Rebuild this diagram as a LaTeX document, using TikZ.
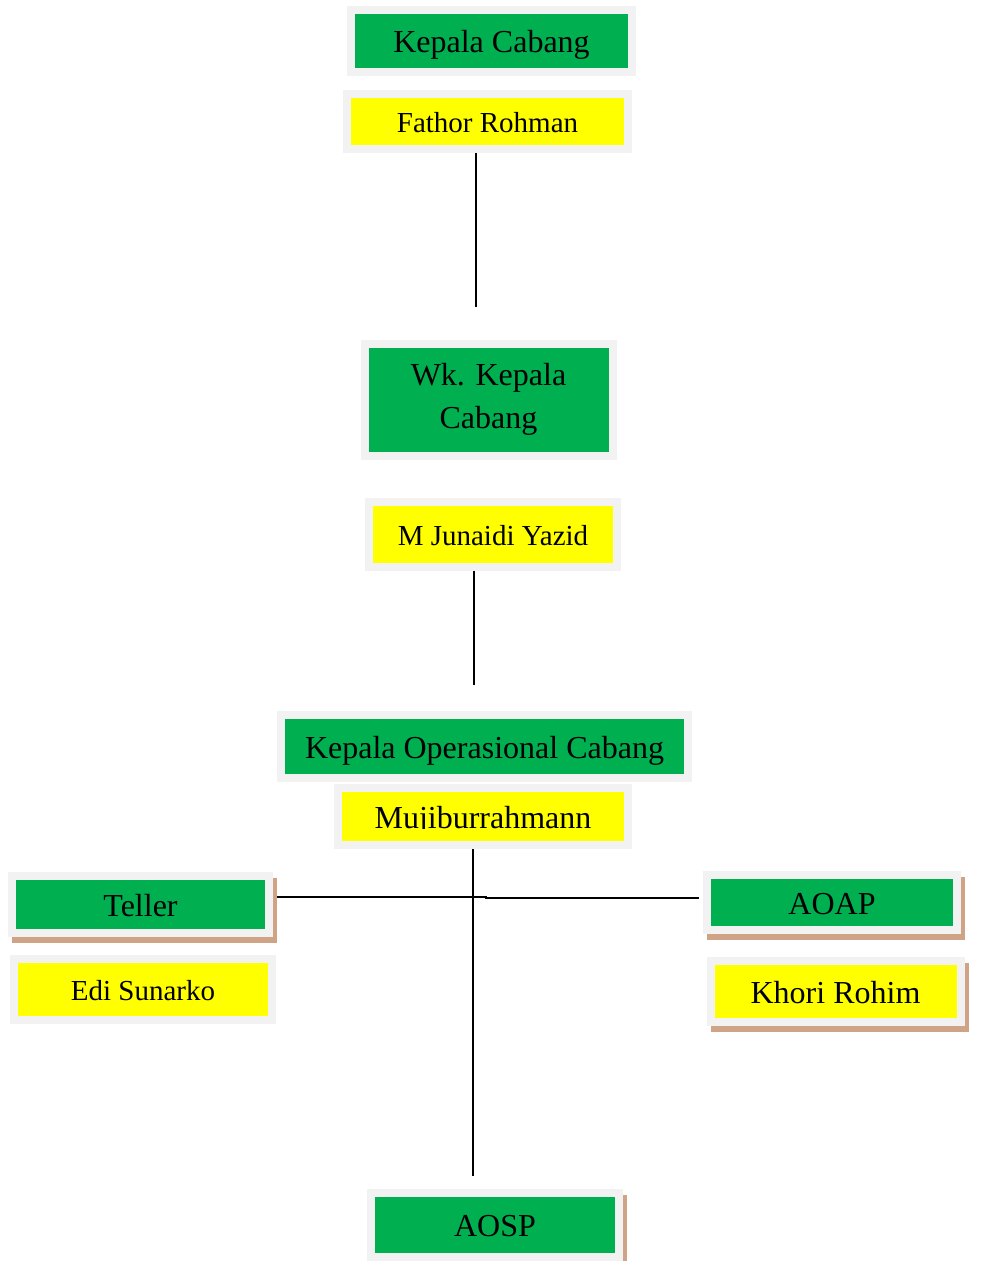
\documentclass[tikz,border=0pt]{standalone}
\usepackage{fontspec}
\setmainfont{Liberation Serif}
\usepackage{trimclip}
\usetikzlibrary{shadows}
\definecolor{boxgreen}{HTML}{00B050}
\definecolor{boxyellow}{HTML}{FFFF00}
\definecolor{framegray}{HTML}{F2F2F2}
\definecolor{shadowtan}{HTML}{CFA385}
\tikzstyle{jabatan} = [rectangle, draw=framegray, line width=8pt, fill=boxgreen,
                       inner sep=0pt, text height=29pt, text depth=6pt,
                       font=\fontsize{32}{43}\selectfont]
\tikzstyle{nama}    = [rectangle, draw=framegray, line width=8pt, fill=boxyellow,
                       inner sep=0pt, text height=27pt, text depth=6pt,
                       font=\fontsize{29}{35}\selectfont]
\tikzstyle{besar}   = [text height=29pt, font=\fontsize{32}{43}\selectfont]
\tikzstyle{bayangan}= [drop shadow={shadow xshift=4pt, shadow yshift=-6pt,
                       fill=shadowtan, draw=shadowtan, line width=8pt, opacity=1}]
\tikzstyle{garis}   = [line width=2pt, black]

\begin{document}
\begin{tikzpicture}[x=1pt,y=-1pt]
    \useasboundingbox (0,0) rectangle (1006,1261);

    % pimpinan
    \node[jabatan, minimum width=281, minimum height=62] (kacab) at (491.5,41) {Kepala Cabang};
    \node[nama, minimum width=281.5, minimum height=55] (fathor) at (487.5,121.5) {Fathor Rohman};

    \node[jabatan, minimum width=248, minimum height=112, align=center,
          text height=, text depth=] (wakacab) at (488.5,399.5) {Wk. Kepala\\Cabang};
    \node[nama, minimum width=248, minimum height=65] (junaidi) at (493,534.5) {M Junaidi Yazid};

    \node[jabatan, minimum width=407, minimum height=63.5] (kaops) at (484.5,746.5) {Kepala Operasional Cabang};
    \node[nama, besar, minimum width=289.5, minimum height=57.5] (mujib) at (483,816.5) {\clipbox{0pt 6.4pt 0pt 0pt}{Mujiburrahmann}};

    % bawahan
    \node[jabatan, bayangan, minimum width=257, minimum height=57.5] (teller) at (140.5,904.5) {Teller};
    \node[nama, minimum width=258, minimum height=61.5] (edi) at (143,989.5) {Edi Sunarko};

    \node[jabatan, bayangan, minimum width=250, minimum height=55] (aoap) at (832,902.5) {AOAP};
    \node[nama, besar, bayangan, minimum width=250, minimum height=61] (khori) at (835.5,991.5) {Khori Rohim};

    \node[jabatan, bayangan, minimum width=248, minimum height=64] (aosp) at (495,1225) {AOSP};

    % garis
    \coordinate (fathorend) at (476,307);
    \coordinate (junaidiend) at (473.5,685);
    \coordinate (mujibend) at (472.5,1176);
    \coordinate (simpang) at (486,897);

    \draw[garis] (fathorend |- fathor.south) -- (fathorend);
    \draw[garis] (junaidiend |- junaidi.south) -- (junaidiend);
    \draw[garis] (mujibend |- mujib.south) -- (mujibend);
    \draw[garis] ([xshift=4pt]teller.east |- simpang) -- (simpang) -- ++(0,1) coordinate (simpang2)
                 -- ([xshift=-4pt]aoap.west |- simpang2);
\end{tikzpicture}
\end{document}
